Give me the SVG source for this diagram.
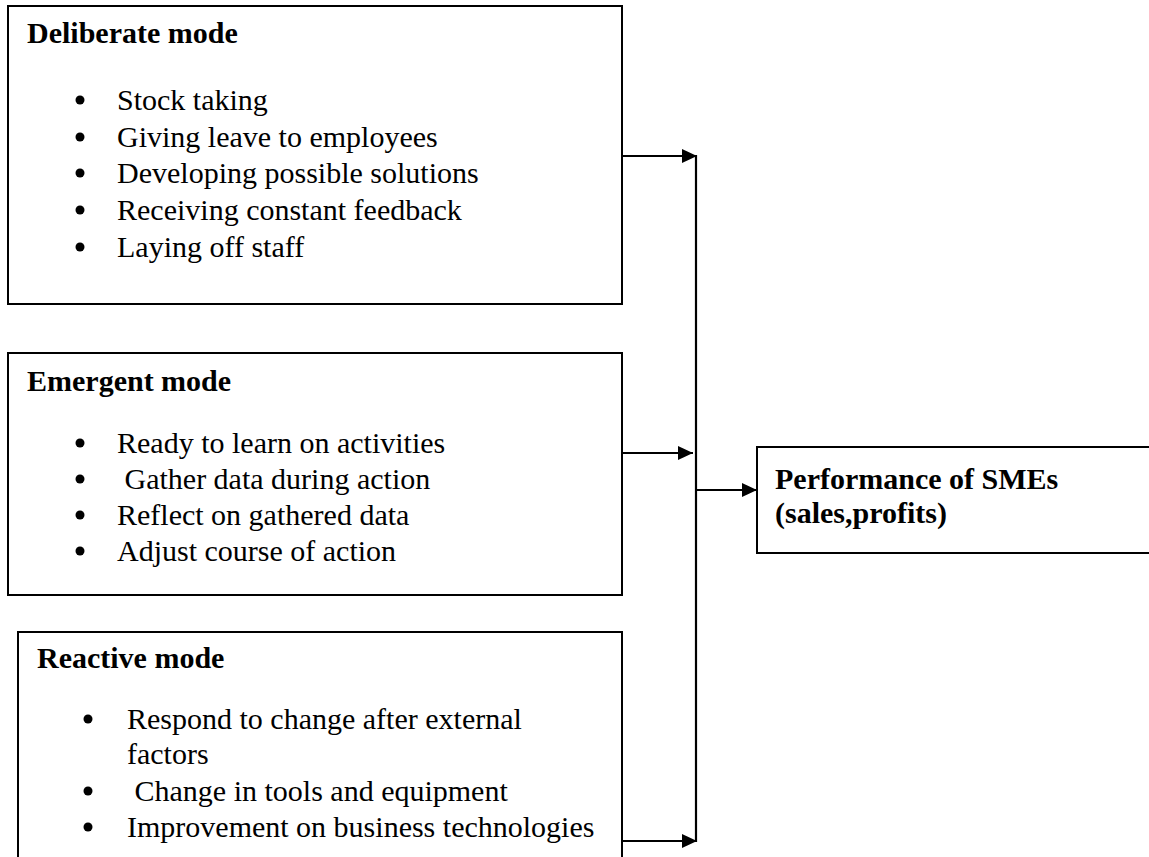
<svg xmlns="http://www.w3.org/2000/svg" width="1149" height="857" viewBox="0 0 1149 857">
<style>
.box{fill:#fff;stroke:#000;stroke-width:2}
.t{font-family:"Liberation Serif","Times New Roman",serif;font-size:30px;fill:#000}
.b{font-weight:bold}
.conn{fill:none;stroke:#000;stroke-width:2.2}
.dot{fill:#000}
</style>
<defs>
<marker id="ah" markerWidth="15" markerHeight="14" refX="15" refY="7" orient="auto" markerUnits="userSpaceOnUse">
<path d="M0,0 L15,7 L0,14 Z" fill="#000"/>
</marker>
</defs>
<rect width="1149" height="857" fill="#fff"/>
<g id="deliberate">
<rect class="box" x="8" y="6" width="614" height="298"/>
<text class="t b" x="27" y="43">Deliberate mode</text>
<circle class="dot" cx="80" cy="100" r="4.5"/>
<circle class="dot" cx="80" cy="137" r="4.5"/>
<circle class="dot" cx="80" cy="173" r="4.5"/>
<circle class="dot" cx="80" cy="210" r="4.5"/>
<circle class="dot" cx="80" cy="247" r="4.5"/>
<text class="t" x="117" y="110">Stock taking</text>
<text class="t" x="117" y="147">Giving leave to employees</text>
<text class="t" x="117" y="183">Developing possible solutions</text>
<text class="t" x="117" y="220">Receiving constant feedback</text>
<text class="t" x="117" y="257">Laying off staff</text>
</g>
<g id="emergent">
<rect class="box" x="8" y="353" width="614" height="242"/>
<text class="t b" x="27" y="391">Emergent mode</text>
<circle class="dot" cx="80" cy="443" r="4.5"/>
<circle class="dot" cx="80" cy="479" r="4.5"/>
<circle class="dot" cx="80" cy="515" r="4.5"/>
<circle class="dot" cx="80" cy="551" r="4.5"/>
<text class="t" x="117" y="453">Ready to learn on activities</text>
<text class="t" x="117" y="489" xml:space="preserve"> Gather data during action</text>
<text class="t" x="117" y="525">Reflect on gathered data</text>
<text class="t" x="117" y="561">Adjust course of action</text>
</g>
<g id="reactive">
<path class="box" d="M18,860 L18,632 L622,632 L622,860"/>
<text class="t b" x="37" y="668">Reactive mode</text>
<circle class="dot" cx="88" cy="719" r="4.5"/>
<circle class="dot" cx="88" cy="791" r="4.5"/>
<circle class="dot" cx="88" cy="827" r="4.5"/>
<text class="t" x="127" y="729">Respond to change after external</text>
<text class="t" x="127" y="764">factors</text>
<text class="t" x="127" y="801" xml:space="preserve"> Change in tools and equipment</text>
<text class="t" x="127" y="837">Improvement on business technologies</text>
</g>
<g id="performance">
<rect class="box" x="757" y="447" width="400" height="106"/>
<text class="t b" x="775" y="489">Performance of SMEs</text>
<text class="t b" x="775" y="523">(sales,profits)</text>
</g>
<g id="connectors">
<line class="conn" x1="622" y1="156" x2="697" y2="156" marker-end="url(#ah)"/>
<line class="conn" x1="622" y1="453" x2="693" y2="453" marker-end="url(#ah)"/>
<line class="conn" x1="622" y1="841" x2="697" y2="841" marker-end="url(#ah)"/>
<line class="conn" x1="696" y1="155" x2="696" y2="842"/>
<line class="conn" x1="696" y1="490" x2="757" y2="490" marker-end="url(#ah)"/>
</g>
</svg>
